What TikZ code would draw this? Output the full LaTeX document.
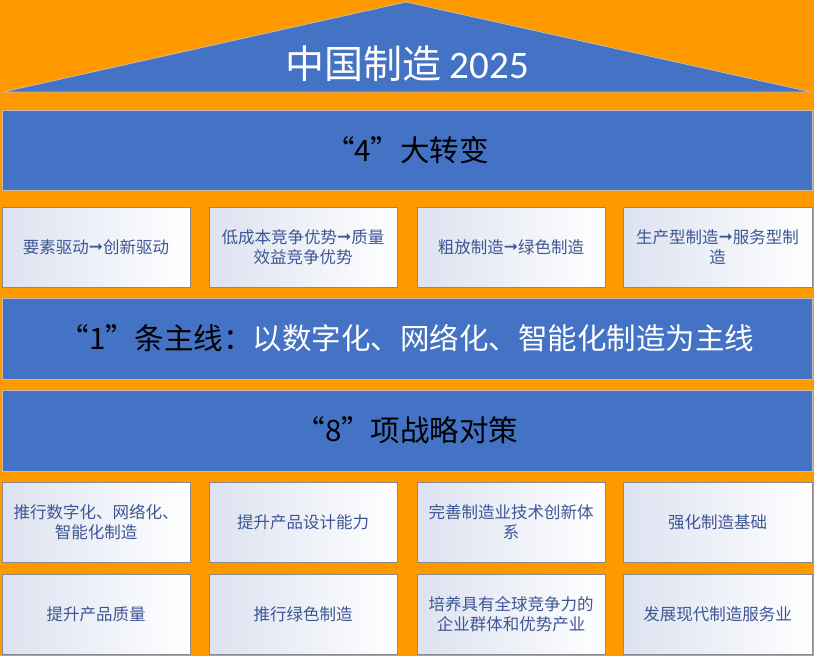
\documentclass[tikz,border=0pt]{standalone}
\usepackage{fontspec}
\setmainfont{Carlito}
\newfontfamily\cjk{Noto Sans CJK SC}
\newfontfamily\arrowfont{DejaVu Sans}
\newcommand{\harr}{{\arrowfont\fontsize{17}{20}\selectfont\raisebox{0.5pt}{➞}}}
\definecolor{bgorange}{HTML}{FF9900}
\definecolor{bandblue}{HTML}{4472C4}
\definecolor{bandedge}{HTML}{C9BBA8}
\definecolor{boxedge}{HTML}{8A8A8A}
\definecolor{boxtext}{HTML}{3E5694}
\definecolor{boxshade}{HTML}{DCE2F0}
\tikzset{
  band/.style={draw=bandedge, line width=0.8pt, fill=bandblue, minimum width=810pt, inner sep=0pt},
  bandtext/.style={font=\cjk\fontsize{29.5}{34}\selectfont, text=black},
  itembox/.style={draw=boxedge, line width=0.8pt, left color=boxshade, right color=white,
    minimum width=188pt, minimum height=80pt, inner sep=0pt, align=center,
    text=boxtext, font=\cjk\fontsize{16.5}{20}\selectfont},
}
\begin{document}
\begin{tikzpicture}[x=1pt,y=-1pt]
\fill[bgorange] (0,0) rectangle (814,656);
\useasboundingbox (0,0) rectangle (814,656);
% roof
\coordinate (apex) at (406,2);
\coordinate (rl) at (3,92);
\coordinate (rr) at (811,92);
\draw[bandedge, line width=0.8pt, fill=bandblue] (rl) -- (apex) -- (rr) -- cycle;
\node[text=white, font=\cjk\fontsize{39}{44}\selectfont] (title) at (407,63.5) {中国制造 {\fontspec{Carlito}2025}};
% bands
\node[band, minimum height=80pt] (b1) at (407,150) {};
\node[bandtext] (t1) at (b1.center) {“4”大转变};
\node[band, minimum height=81pt] (b2) at (407,338.5) {};
\node[bandtext] (t2) at (b2.center) {“1”条主线：\textcolor{white}{以数字化、网络化、智能化制造为主线}};
\node[band, minimum height=81pt] (b3) at (407,430.5) {};
\node[bandtext] (t3) at (b3.center) {“8”项战略对策};
% row 1
\node[itembox] (a1) at (96,247) {要素驱动\harr 创新驱动};
\node[itembox] (a2) at (303,247) {低成本竞争优势\harr 质量\\效益竞争优势};
\node[itembox] (a3) at (511,247) {粗放制造\harr 绿色制造};
\node[itembox, minimum width=189pt] (a4) at (717.5,247) {生产型制造\harr 服务型制\\造};
% row 2
\node[itembox] (c1) at (96,522) {推行数字化、网络化、\\智能化制造};
\node[itembox] (c2) at (303,522) {提升产品设计能力};
\node[itembox] (c3) at (511,522) {完善制造业技术创新体\\系};
\node[itembox, minimum width=189pt] (c4) at (717.5,522) {强化制造基础};
% row 3
\node[itembox] (d1) at (96,614) {提升产品质量};
\node[itembox] (d2) at (303,614) {推行绿色制造};
\node[itembox] (d3) at (511,614) {培养具有全球竞争力的\\企业群体和优势产业};
\node[itembox, minimum width=189pt] (d4) at (717.5,614) {发展现代制造服务业};
\end{tikzpicture}
\end{document}
